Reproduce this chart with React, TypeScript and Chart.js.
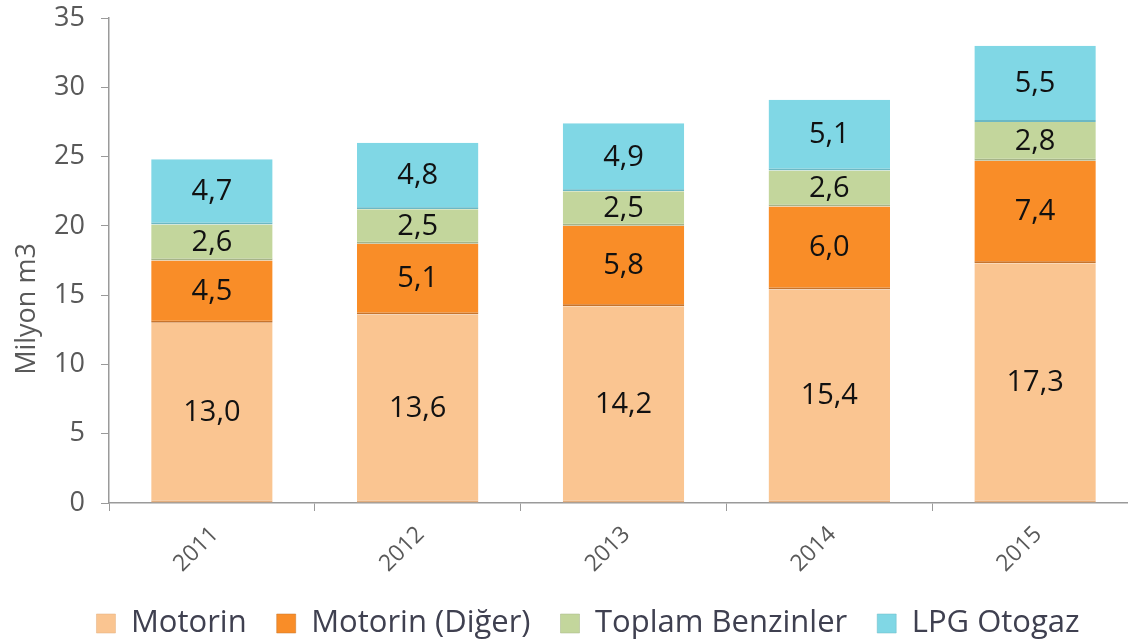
import React, { useEffect, useRef } from "react";
import { Chart, registerables } from "chart.js";

Chart.register(...registerables);

const years = ["2011", "2012", "2013", "2014", "2015"];
const motorin = [13.0, 13.6, 14.2, 15.4, 17.3];
const motorinDiger = [4.5, 5.1, 5.8, 6.0, 7.4];
const benzin = [2.6, 2.5, 2.5, 2.6, 2.8];
const lpg = [4.7, 4.8, 4.9, 5.1, 5.5];
const seriesNames = ["Motorin", "Motorin (Diğer)", "Toplam Benzinler", "LPG Otogaz"];
const yTicks = [0, 5, 10, 15, 20, 25, 30, 35];
const yTitle = "Milyon m3";

const FONT = "'Open Sans', Lato, sans-serif";

const dataLabelPlugin = {
  id: "dataLabels",
  afterDatasetsDraw(chart: any) {
    const ctx = chart.ctx;
    ctx.save();
    ctx.font = `29px ${FONT}`;
    ctx.fillStyle = "#111111";
    ctx.textAlign = "center";
    ctx.textBaseline = "middle";
    chart.data.datasets.forEach((ds: any, di: number) => {
      const meta = chart.getDatasetMeta(di);
      meta.data.forEach((el: any, i: number) => {
        const v = ds.data[i];
        const y = (el.y + el.base) / 2;
        ctx.fillText(v.toFixed(1).replace(".", ","), el.x, y);
      });
    });
    ctx.restore();
  },
};

const yTitlePlugin = {
  id: "yTitle",
  afterDraw(chart: any) {
    const ctx = chart.ctx;
    const area = chart.chartArea;
    ctx.save();
    ctx.font = `27px ${FONT}`;
    ctx.fillStyle = "#595959";
    ctx.textAlign = "center";
    ctx.textBaseline = "middle";
    ctx.translate(27, area.top + (area.bottom - area.top) * 0.6);
    ctx.rotate(-Math.PI / 2);
    ctx.fillText(yTitle, 0, 0);
    ctx.restore();
  },
};

export default function App() {
  const ref = useRef<HTMLCanvasElement>(null);
  useEffect(() => {
    if (!ref.current) return;
    const mk = (label: string, data: number[], bg: string, bd: string) => ({
      label,
      data,
      backgroundColor: bg,
      borderColor: bd,
      borderWidth: { top: 0, left: 0, right: 0, bottom: 2 },
      borderSkipped: false,
      barPercentage: 0.59,
      categoryPercentage: 1.0,
    });
    const chart = new Chart(ref.current, {
      type: "bar",
      data: {
        labels: years,
        datasets: [
          mk(seriesNames[0], motorin, "#FAC591", "#E3AE7E"),
          mk(seriesNames[1], motorinDiger, "#F98D28", "#C7742C"),
          mk(seriesNames[2], benzin, "#C3D69C", "#A5B488"),
          mk(seriesNames[3], lpg, "#80D7E5", "#6CB8C4"),
        ] as any,
      },
      options: {
        animation: false,
        responsive: false,
        layout: { padding: { left: 38, right: 0, top: 18, bottom: -6 } },
        plugins: {
          legend: {
            position: "bottom",
            labels: {
              font: { family: FONT, size: 31 },
              color: "#3f4050",
              boxWidth: 19,
              boxHeight: 19,
              padding: 30,
            },
          },
          tooltip: { enabled: false },
        },
        scales: {
          x: {
            stacked: true,
            afterFit: (s: any) => {
              s.height = 75;
              s.paddingLeft = 0;
              s.paddingRight = 0;
            },
            grid: { drawOnChartArea: false, drawTicks: true, tickLength: 8, color: "#9a9a9a", offset: true },
            border: { color: "#9a9a9a", width: 1.5 },
            ticks: {
              font: { family: FONT, size: 23 },
              color: "#595959",
              minRotation: 45,
              maxRotation: 45,
              labelOffset: 3,
              padding: 10,
            },
          },
          y: {
            stacked: true,
            min: 0,
            max: 35,
            afterBuildTicks: (s: any) => {
              s.ticks = yTicks.map((v) => ({ value: v }));
            },
            afterFit: (s: any) => {
              s.width = 71;
              s.paddingTop = 0;
              s.paddingBottom = 0;
            },
            grid: { drawOnChartArea: false, drawTicks: true, tickLength: 8, color: "#9a9a9a" },
            border: { color: "#9a9a9a", width: 1.5 },
            ticks: {
              font: { family: FONT, size: 27 },
              color: "#595959",
              padding: 16,
            },
          },
        },
      } as any,
      plugins: [dataLabelPlugin, yTitlePlugin],
    });
    return () => chart.destroy();
  }, []);
  return (
    <div style={{ position: "fixed", left: 0, top: 0, width: 1128, height: 643, overflow: "hidden", background: "#fff" }}>
      <canvas ref={ref} width={1138} height={643} style={{ display: "block" }} />
    </div>
  );
}
